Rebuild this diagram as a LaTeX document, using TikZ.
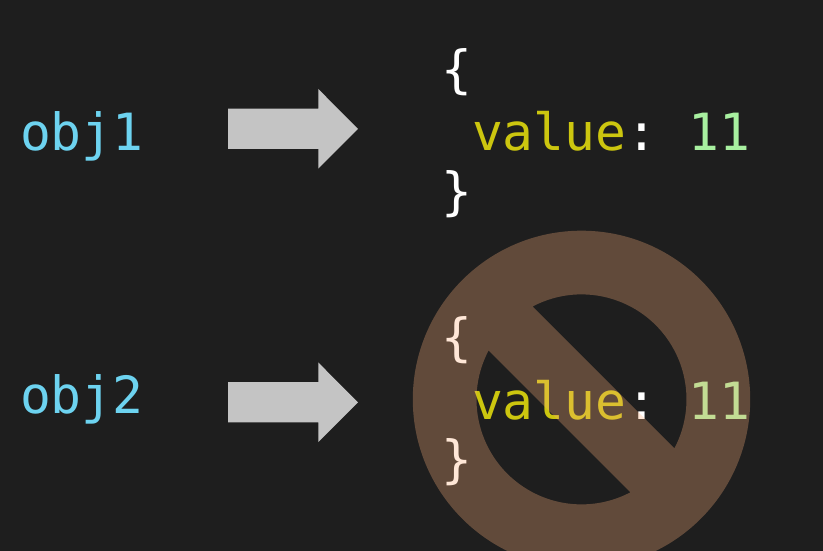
\documentclass[tikz,border=0pt]{standalone}
\usepackage{fontspec}
\setmonofont{DejaVu Sans Mono}
\definecolor{bgc}{HTML}{1E1E1E}
\definecolor{objc}{HTML}{6DD3F0}
\definecolor{keyc}{HTML}{CCC60F}
\definecolor{numc}{HTML}{A8F0A0}
\definecolor{arrowc}{HTML}{C4C4C4}
\definecolor{signc}{HTML}{FFB17B}
\tikzset{
  x=1pt,y=1pt,
  codetext/.style={anchor=base west,inner sep=0pt,outer sep=0pt,font=\fontsize{51.3}{51.3}\selectfont\ttfamily},
  objtext/.style={codetext,text=objc},
  bracetext/.style={codetext,text=white},
  blockarrow/.style={fill=arrowc,draw=none},
  forbidsign/.style={fill=signc,fill opacity=.3,draw=none,even odd rule}
}
\begin{document}
\begin{tikzpicture}
\useasboundingbox (0,0) rectangle (823,551);
\clip (0,0) rectangle (823,551);
\fill[bgc] (0,0) rectangle (823,551);
% first row
\node[objtext] (obja) at (20,400) {obj1};
\draw[blockarrow] (228,442.3) -- (318.3,442.3) -- (318.3,462) -- (358,422) -- (318.3,382.3) -- (318.3,402) -- (228,402) -- cycle;
\node[bracetext] (opena) at (441,463) {\{};
\node[codetext] (vala) at (472,400) {\textcolor{keyc}{value}\textcolor{white}{:} \textcolor{numc}{11}};
\node[bracetext] (closea) at (441,341.5) {\}};
% second row
\node[objtext] (objb) at (20,137) {obj2};
\draw[blockarrow] (228,168.8) -- (318.3,168.8) -- (318.3,188.5) -- (358,148.5) -- (318.3,108.8) -- (318.3,128.5) -- (228,128.5) -- cycle;
\node[bracetext] (openb) at (441,195) {\{};
\node[codetext] (valb) at (472,131) {\textcolor{keyc}{value}\textcolor{white}{:} \textcolor{numc}{11}};
\node[bracetext] (closeb) at (441,73) {\}};
% prohibition sign
\fill[forbidsign] (581.5,151.6) circle (168.7)
  (581.5,151.6) ++(117.8:105) arc (117.8:-27.8:105) -- cycle
  (581.5,151.6) ++(152.2:105) arc (152.2:297.8:105) -- cycle;
\end{tikzpicture}
\end{document}
